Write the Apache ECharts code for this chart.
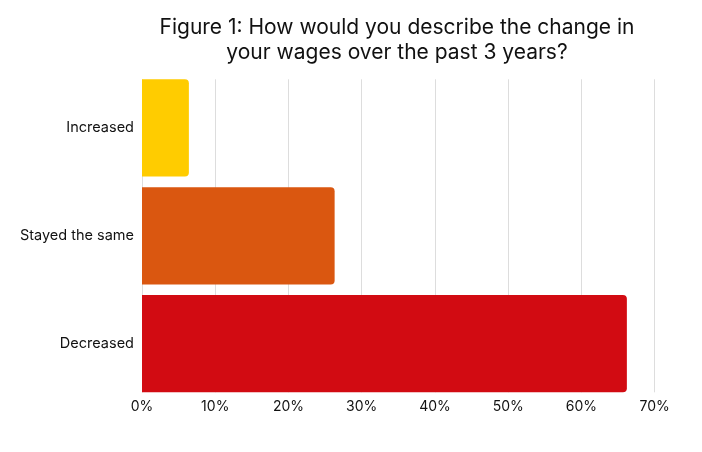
<!DOCTYPE html>
<html>
<head>
<meta charset="utf-8">
<script src="https://cdn.jsdelivr.net/npm/echarts@6/dist/echarts.min.js"></script>
<style>html,body{margin:0;padding:0;background:#fff}#c{width:702px;height:452px}</style>
</head>
<body>
<div id="c"></div>
<script>
const categories = ['Increased', 'Stayed the same', 'Decreased'];
const values = [6.4, 26.3, 66.2];
const colors = ['#FFCC00', '#DA5710', '#D20B12'];
const tickMax = 70;
const tickStep = 10;

const font = 'Inter';
const chart = echarts.init(document.getElementById('c'), null, {renderer: 'canvas'});
chart.setOption({
  animation: false,
  backgroundColor: '#ffffff',
  title: {
    text: 'Figure 1: How would you describe the change in\nyour wages over the past 3 years?',
    left: 392, top: 10, textAlign: 'center',
    textStyle: {fontFamily: font, fontWeight: 'normal', fontSize: 21, color: '#111', lineHeight: 25}
  },
  grid: [
    {left: 142, right: 47.3, top: 79.3, bottom: 59.7, containLabel: false},
    {left: 142, right: 47.3, top: 74, bottom: 54.4, containLabel: false}
  ],
  xAxis: [{
    gridIndex: 0, type: 'value', min: 0, max: tickMax, interval: tickStep,
    axisLine: {show: false}, axisTick: {show: false},
    splitLine: {lineStyle: {color: '#dddddd', width: 1}},
    axisLabel: {formatter: '{value}%', fontFamily: font, fontSize: 14, color: '#111', margin: 7}
  }, {
    gridIndex: 1, type: 'value', min: 0, max: tickMax, interval: tickStep, show: false,
    splitLine: {show: false}
  }],
  yAxis: [{
    gridIndex: 0, type: 'category', data: categories, inverse: true, show: false
  }, {
    gridIndex: 1, type: 'category', data: categories, inverse: true,
    axisLine: {show: false}, axisTick: {show: false},
    axisLabel: {fontFamily: font, fontSize: 14.5, color: '#111', margin: 8}
  }],
  series: [{
    type: 'bar', xAxisIndex: 1, yAxisIndex: 1,
    data: values.map((v, i) => ({value: v, itemStyle: {color: colors[i]}})),
    barCategoryGap: '9.8%',
    itemStyle: {borderRadius: [0, 4, 4, 0]}
  }]
});
</script>
</body>
</html>
